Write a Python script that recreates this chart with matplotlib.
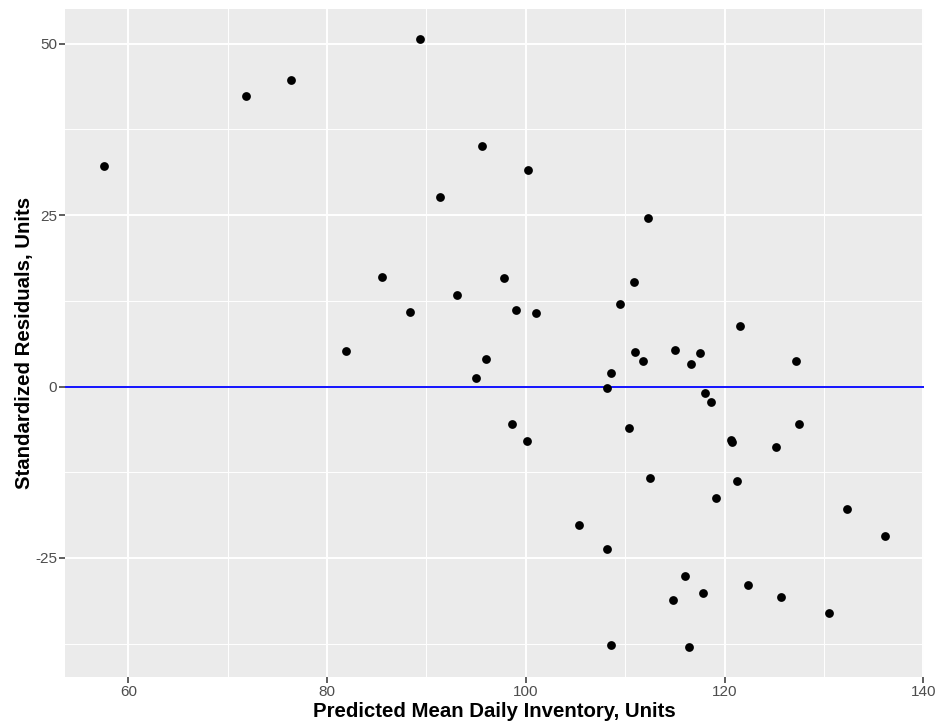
import matplotlib
matplotlib.use("Agg")
import matplotlib.pyplot as plt
from matplotlib.ticker import MultipleLocator

predicted = [57.56, 71.84, 76.37, 89.35, 81.90, 85.52, 88.34, 91.36, 93.07, 95.59,
             94.99, 96.02, 97.83, 98.57, 98.97, 100.21, 100.14, 100.99, 105.37, 108.13,
             108.13, 108.53, 108.53, 109.44, 110.37, 110.91, 110.98, 111.78, 112.28, 112.52,
             114.80, 114.97, 116.04, 116.58, 116.38, 117.55, 117.79, 118.05, 118.65, 119.09,
             121.54, 120.63, 120.75, 121.27, 122.34, 125.19, 125.69, 127.20, 127.48, 130.52,
             132.30, 136.13]
residuals = [32.17, 42.38, 44.71, 50.69, 5.20, 15.99, 10.89, 27.65, 13.32, 35.09,
             1.17, 4.04, 15.80, -5.44, 11.22, 31.59, -8.02, 10.79, -20.20, -23.66,
             -0.23, 2.04, -37.65, 12.01, -6.12, 15.26, 5.06, 3.70, 24.59, -13.31,
             -31.20, 5.35, -27.64, 3.27, -37.94, 4.91, -30.07, -0.96, -2.27, -16.22,
             8.89, -7.81, -8.05, -13.79, -28.91, -8.79, -30.70, 3.79, -5.54, -32.99,
             -17.83, -21.76]

x_ticks = [60, 80, 100, 120, 140]
y_ticks = [-25, 0, 25, 50]
x_label = "Predicted Mean Daily Inventory, Units"
y_label = "Standardized Residuals, Units"

plt.rcParams['font.family'] = ['Liberation Sans', 'DejaVu Sans']
plt.rcParams['axes.unicode_minus'] = False

fig = plt.figure(figsize=(9.4, 7.25), dpi=100)
W, H = 940, 725
left, right, top, bottom = 65, 924, 8.6, 677
ax = fig.add_axes([left / W, 1 - bottom / H, (right - left) / W, (bottom - top) / H])
ax.set_facecolor('#EBEBEB')
for s in ax.spines.values():
    s.set_visible(False)

ax.scatter(predicted, residuals, s=40, color='black', zorder=3, linewidths=0)
ax.margins(x=0.05, y=0.05)
ax.axhline(0, color='#0000FF', linewidth=1.3, zorder=2)

ax.set_xticks(x_ticks)
ax.set_yticks(y_ticks)
ax.xaxis.set_minor_locator(MultipleLocator(10))
ax.yaxis.set_minor_locator(MultipleLocator(12.5))
ax.grid(which='major', color='white', linewidth=1.4, zorder=0)
ax.grid(which='minor', color='white', linewidth=0.7, zorder=0)
ax.set_axisbelow(True)
ax.tick_params(which='major', length=4.3, width=1.1, color='#333333',
               labelcolor='#4D4D4D', labelsize=11, pad=1.5)
ax.tick_params(which='minor', length=0)

ax.set_xlabel(x_label, fontsize=14.7, fontweight='bold', color='black', labelpad=2)
ax.set_ylabel(y_label, fontsize=14.7, fontweight='bold', color='black', labelpad=1)

fig.savefig('out.png', dpi=100)
